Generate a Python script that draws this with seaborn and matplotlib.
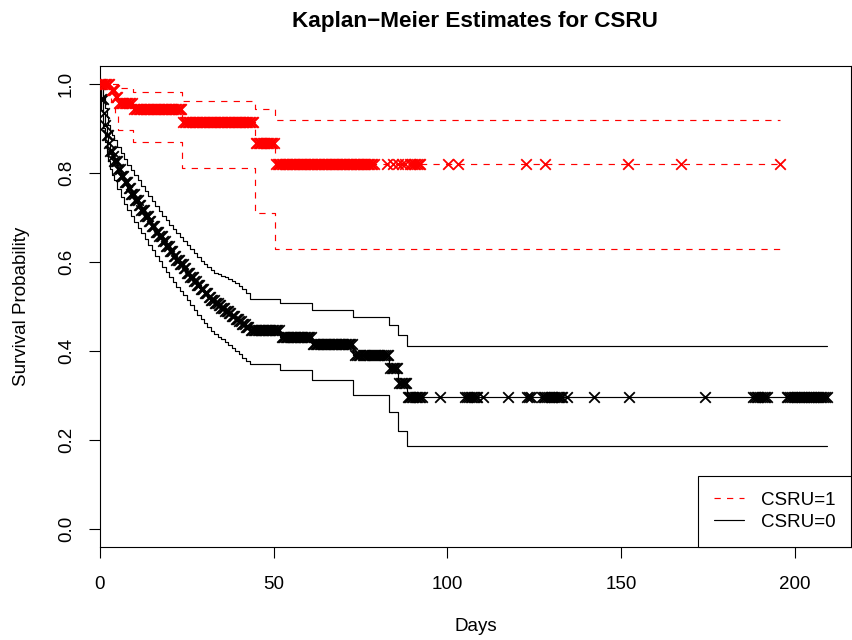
import numpy as np
import pandas as pd
import matplotlib
matplotlib.use("Agg")
import matplotlib.pyplot as plt
from matplotlib.lines import Line2D
import seaborn as sns

# ---- Kaplan-Meier steps (days, survival) ----
# CSRU=0 (black)
csru0_time = [0, 0.5, 1, 1.5, 2, 2.5, 3, 3.5, 4, 5, 6, 7, 8, 9, 10, 11, 12, 13,
              14, 15, 16, 17, 18, 19, 20, 21, 22, 23, 24, 25, 26, 27, 28, 29,
              30, 31, 32, 33, 34, 35, 36, 37, 38, 39, 40, 41, 42, 43.2, 51.9,
              61.0, 73.0, 83.3, 85.9, 88.3]
csru0_surv = [1.0, 0.965, 0.935, 0.908, 0.885, 0.866, 0.850, 0.837, 0.826,
              0.808, 0.793, 0.779, 0.765, 0.752, 0.740, 0.728, 0.716, 0.704,
              0.692, 0.680, 0.668, 0.657, 0.646, 0.635, 0.624, 0.614, 0.604,
              0.595, 0.586, 0.576, 0.566, 0.556, 0.547, 0.538, 0.530, 0.522,
              0.515, 0.508, 0.502, 0.496, 0.490, 0.484, 0.478, 0.472, 0.466,
              0.460, 0.454, 0.447, 0.431, 0.415, 0.390, 0.361, 0.327, 0.296]
csru0_upper = [1.0, 0.990, 0.970, 0.945, 0.925, 0.908, 0.895, 0.884, 0.874,
               0.858, 0.844, 0.831, 0.818, 0.806, 0.794, 0.783, 0.771, 0.760,
               0.749, 0.737, 0.726, 0.715, 0.704, 0.693, 0.683, 0.673, 0.664,
               0.655, 0.646, 0.637, 0.628, 0.619, 0.610, 0.602, 0.595, 0.588,
               0.581, 0.576, 0.572, 0.568, 0.565, 0.562, 0.558, 0.553, 0.546,
               0.538, 0.530, 0.516, 0.507, 0.492, 0.477, 0.458, 0.435, 0.410]
csru0_lower = [1.0, 0.940, 0.900, 0.870, 0.845, 0.826, 0.808, 0.794, 0.783,
               0.763, 0.746, 0.731, 0.716, 0.702, 0.689, 0.676, 0.664, 0.651,
               0.638, 0.626, 0.613, 0.601, 0.589, 0.577, 0.565, 0.554, 0.544,
               0.535, 0.525, 0.514, 0.503, 0.492, 0.481, 0.471, 0.462, 0.453,
               0.445, 0.438, 0.432, 0.426, 0.420, 0.413, 0.406, 0.399, 0.392,
               0.385, 0.378, 0.370, 0.357, 0.334, 0.300, 0.262, 0.221, 0.186]
csru0_censor = [
    0.2, 0.5, 0.9, 1.2, 1.6, 2.0, 2.3, 2.7, 3.1, 3.4, 3.8, 4.2, 4.6, 4.9,
    5.3, 5.7, 6.0, 6.4, 6.8, 7.2, 7.5, 7.9, 8.3, 8.6, 9.0, 9.4, 9.8, 10.1,
    10.5, 10.9, 11.2, 11.6, 12.0, 12.4, 12.7, 13.1, 13.5, 13.8, 14.2, 14.6,
    15.0, 15.3, 15.7, 16.1, 16.4, 16.8, 17.2, 17.6, 17.9, 18.3, 18.7, 19.0,
    19.4, 19.8, 20.2, 20.5, 20.9, 21.3, 21.6, 22.0, 22.4, 22.8, 23.1, 23.5,
    23.9, 24.2, 24.6, 25.0, 25.4, 25.7, 26.1, 26.5, 26.8, 27.2, 27.6, 28.0,
    28.3, 28.7, 29.1, 29.4, 29.8, 30.2, 30.6, 30.9, 31.3, 31.7, 32.0, 32.4,
    32.8, 33.2, 33.5, 33.9, 34.3, 34.6, 35.0, 35.4, 35.8, 36.1, 36.5, 36.9,
    37.2, 37.6, 38.0, 38.4, 38.7, 39.1, 39.5, 39.8, 40.2, 40.6, 41.0, 41.3,
    41.7, 42.1, 42.4, 42.8, 43.5, 43.9, 44.3, 44.7, 45.1, 45.5, 45.9, 46.3,
    46.7, 47.1, 47.5, 47.9, 48.3, 48.7, 49.1, 49.5, 49.9, 50.3, 50.7, 51.1,
    51.5, 52.3, 52.7, 53.1, 53.5, 53.9, 54.3, 54.7, 55.1, 55.5, 55.9, 56.3,
    56.7, 57.1, 57.5, 57.9, 58.3, 58.7, 59.1, 59.5, 59.9, 60.3, 60.7, 61.3,
    61.7, 62.1, 62.5, 62.9, 63.3, 63.7, 64.1, 64.5, 64.9, 65.3, 65.7, 66.1,
    66.5, 66.9, 67.3, 67.7, 68.1, 68.5, 68.9, 69.3, 69.7, 70.1, 70.5, 70.9,
    71.3, 71.7, 72.1, 72.5, 73.5, 74.0, 74.5, 75.0, 75.6, 76.1, 76.6, 77.2,
    77.7, 78.2, 78.8, 79.3, 79.9, 80.4, 80.9, 81.5, 82.0, 82.5, 83.0, 83.6,
    84.0, 84.4, 84.8, 85.2, 85.6, 86.2, 86.6, 87.0, 87.4, 87.8, 88.1, 88.6,
    89.0, 89.4, 89.8, 90.2, 90.6, 91.0, 91.4, 91.8, 92.2, 92.6, 97.9, 105.2,
    105.7, 106.2, 106.7, 107.2, 107.7, 108.2, 108.6, 110.4, 117.5, 123.0,
    123.5, 124.0, 127.2, 127.7, 128.2, 128.7, 129.2, 129.7, 130.2, 130.7,
    131.2, 131.7, 132.2, 132.7, 133.1, 134.3, 142.3, 152.3, 174.1, 188.0,
    188.5, 189.0, 189.5, 190.0, 190.5, 191.0, 191.5, 191.9, 197.6, 198.1,
    198.6, 199.1, 199.6, 200.1, 200.6, 201.1, 201.6, 202.1, 202.6, 203.1,
    203.6, 204.1, 204.6, 205.1, 205.6, 206.1, 206.6, 207.1, 207.6, 208.1,
    208.6, 209.1]

# CSRU=1 (red)
csru1_time = [0, 3.2, 4.4, 5.3, 9.6, 23.8, 44.6, 50.4]
csru1_surv = [1.0, 0.986, 0.971, 0.957, 0.943, 0.915, 0.868, 0.820]
csru1_upper = [1.0, 1.0, 1.0, 0.990, 0.981, 0.962, 0.944, 0.918]
csru1_lower = [1.0, 0.960, 0.935, 0.897, 0.870, 0.811, 0.710, 0.629]
csru1_censor = [
    0.3, 0.7, 1.1, 1.5, 1.9, 2.3, 2.7, 3.5, 3.9, 4.2, 4.6, 5.0, 5.6, 6.0,
    6.4, 6.8, 7.2, 7.6, 8.0, 8.4, 8.8, 9.2, 10.0, 10.4, 10.8, 11.2, 11.6,
    12.0, 12.4, 12.8, 13.2, 13.6, 14.0, 14.4, 14.8, 15.2, 15.6, 16.0, 16.4,
    16.8, 17.2, 17.6, 18.0, 18.4, 18.8, 19.2, 19.6, 20.0, 20.4, 20.8, 21.2,
    21.6, 22.0, 22.4, 22.8, 23.2, 23.5, 24.1, 24.5, 24.9, 25.3, 25.7, 26.1,
    26.5, 26.9, 27.3, 27.7, 28.1, 28.5, 28.9, 29.3, 29.7, 30.1, 30.5, 30.9,
    31.3, 31.7, 32.1, 32.5, 32.9, 33.3, 33.7, 34.1, 34.5, 34.9, 35.3, 35.7,
    36.1, 36.5, 36.9, 37.3, 37.7, 38.1, 38.5, 38.9, 39.3, 39.7, 40.1, 40.5,
    40.9, 41.3, 41.7, 42.1, 42.5, 42.9, 43.3, 43.7, 44.1, 44.9, 45.3, 45.7,
    46.1, 46.5, 46.9, 47.3, 47.7, 48.1, 48.5, 48.9, 49.3, 49.7, 50.1, 50.8,
    51.2, 51.6, 52.0, 52.4, 52.8, 53.2, 53.6, 54.0, 54.4, 54.8, 55.2, 55.6,
    56.0, 56.4, 56.8, 57.2, 57.6, 58.0, 58.4, 58.8, 59.2, 59.6, 60.0, 60.4,
    60.8, 61.2, 61.6, 62.0, 62.4, 62.8, 63.2, 63.6, 64.0, 64.4, 64.8, 65.2,
    65.6, 66.0, 66.4, 66.8, 67.2, 67.6, 68.0, 68.4, 68.8, 69.2, 69.6, 70.0,
    70.4, 70.8, 71.2, 71.6, 72.0, 72.4, 72.8, 73.2, 73.6, 74.0, 74.4, 74.8,
    75.2, 75.6, 76.0, 76.4, 76.8, 77.2, 77.6, 78.0, 78.4, 78.8, 82.5, 84.4,
    85.9, 86.9, 87.8, 89.3, 89.8, 90.3, 90.8, 91.3, 91.8, 92.1, 100.3, 103.2,
    122.5, 128.1, 152.0, 167.3, 195.7]

x_ticks = [0, 50, 100, 150, 200]
y_ticks = [0.0, 0.2, 0.4, 0.6, 0.8, 1.0]
group_labels = ["CSRU=1", "CSRU=0"]


def step_frame(times, values, end):
    return pd.DataFrame({"day": list(times) + [end],
                         "surv": list(values) + [values[-1]]})


def surv_at(times, values, when):
    idx = np.searchsorted(times, when, side="right") - 1
    return np.asarray(values)[idx]


sns.set_theme(style="ticks", rc={
    "axes.edgecolor": "black", "xtick.color": "black", "ytick.color": "black",
    "text.color": "black", "axes.labelcolor": "black",
})
plt.rcParams["font.family"] = ["Liberation Sans", "DejaVu Sans"]

fig = plt.figure(figsize=(8.52, 6.4), dpi=100)
ax = fig.add_axes([0.1170, 0.1458, 0.8822, 0.7511])

groups = [
    ("black", "-", csru0_time, csru0_surv, csru0_upper, csru0_lower, csru0_censor),
    ("red", (0, (5.3, 5.3)), csru1_time, csru1_surv, csru1_upper, csru1_lower, csru1_censor),
]

for color, ls, t, s, up, lo, cens in groups:
    end = max(cens)
    for vals in (up, lo, s):
        sns.lineplot(data=step_frame(t, vals, end), x="day", y="surv",
                     drawstyle="steps-post", estimator=None, sort=False,
                     color=color, linewidth=0.85, linestyle=ls, ax=ax)
    # censoring ticks
    sns.scatterplot(x=cens, y=surv_at(t, s, cens), marker="x", s=58,
                    color=color, linewidth=1.3, ax=ax, zorder=3)

ax.set_xlim(0, 216.2)
ax.set_ylim(-0.04, 1.04)
ax.set_xticks(x_ticks)
ax.set_yticks(y_ticks)
ax.set_yticklabels([f"{v:.1f}" for v in y_ticks], rotation=90, va="center")

for sp in ax.spines.values():
    sp.set_visible(True)
    sp.set_linewidth(0.8)
    sp.set_color("black")

ax.tick_params(axis="both", direction="out", length=7.8, width=0.8,
               labelsize=13.5)
ax.tick_params(axis="x", pad=13.5)
ax.tick_params(axis="y", pad=10)

ax.set_xlabel("Days", fontsize=13.5, va="center")
ax.xaxis.set_label_coords(0.5, -0.165)
ax.set_ylabel("Survival Probability", fontsize=13.5, va="center")
ax.yaxis.set_label_coords(-0.1040, 0.5)

fig.text(0.558, 1 - 22 / 640, "Kaplan\u2212Meier Estimates for CSRU",
         ha="center", va="center", fontsize=16.2, fontweight="bold")

handles = [
    Line2D([], [], color="red", linewidth=0.85, linestyle=(0, (5.3, 5.3))),
    Line2D([], [], color="black", linewidth=0.85),
]
leg = ax.legend(handles, group_labels, loc="lower right", borderaxespad=0,
                fontsize=13.5, frameon=True, fancybox=False, framealpha=1,
                edgecolor="black", borderpad=0.85, labelspacing=0.25,
                handlelength=1.6, handletextpad=0.9)
leg.get_frame().set_linewidth(0.8)

fig.savefig("out.png", dpi=100)
plt.close(fig)
